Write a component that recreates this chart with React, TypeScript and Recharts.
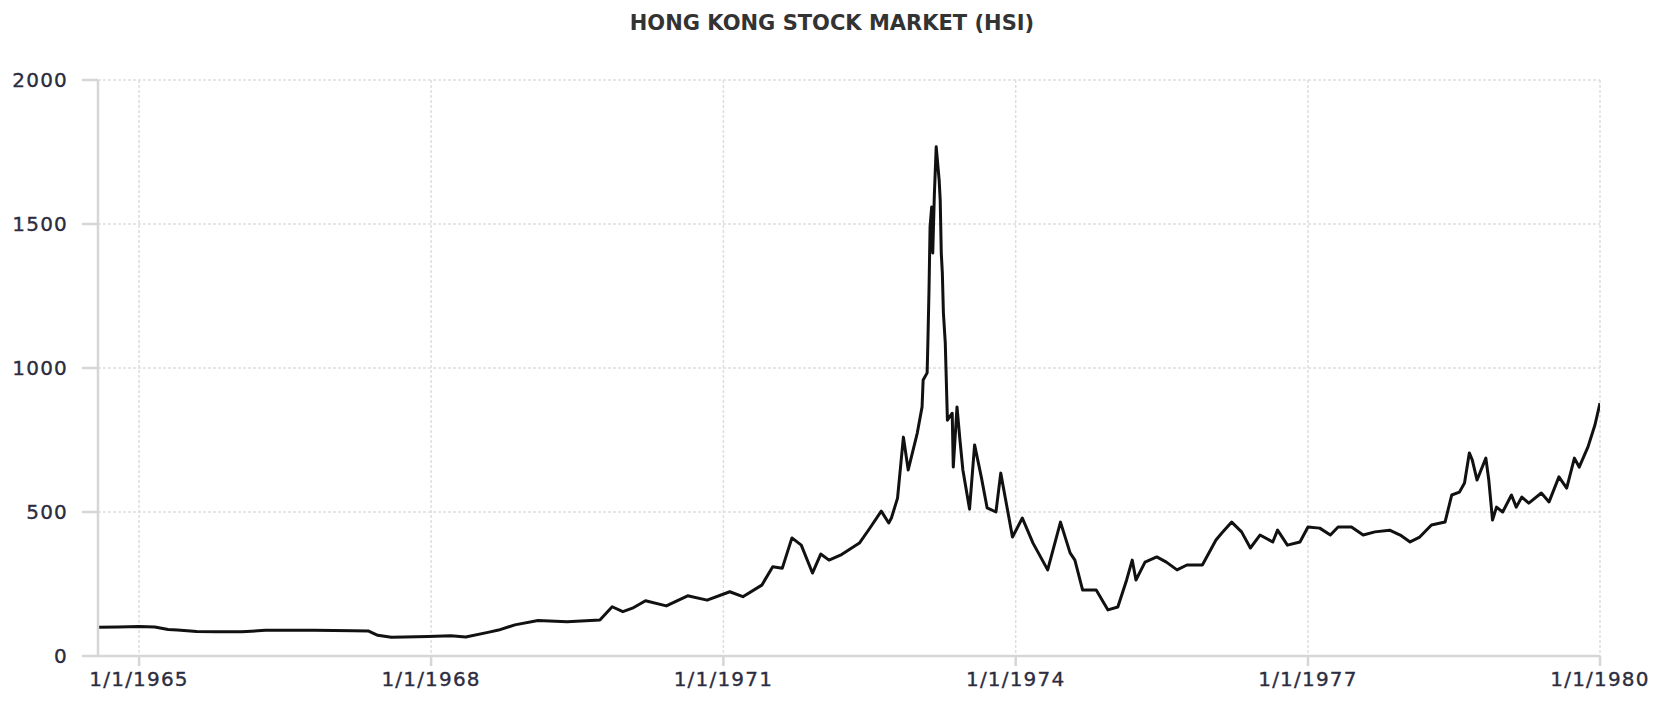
import { LineChart, Line, XAxis, YAxis, CartesianGrid } from 'recharts';

// HSI readings (approximate)
const dates = [
  '1964-07-31', '1964-10-15', '1965-01-01', '1965-03-01', '1965-04-20', '1965-05-25',
  '1965-08-05', '1965-10-20', '1966-01-20', '1966-04-20', '1966-10-20', '1967-03-15',
  '1967-05-10', '1967-06-15', '1967-08-05', '1967-09-25', '1967-12-20', '1968-03-15',
  '1968-05-10', '1968-08-01', '1968-09-10', '1968-11-10', '1969-02-05', '1969-05-25',
  '1969-09-25', '1969-11-10', '1969-12-20', '1970-01-25', '1970-03-15', '1970-06-01',
  '1970-08-20', '1970-11-01', '1971-01-25', '1971-03-15', '1971-05-25', '1971-07-05',
  '1971-08-10', '1971-09-15', '1971-10-20', '1971-12-01', '1972-01-01', '1972-02-01',
  '1972-03-15', '1972-05-25', '1972-07-01', '1972-08-15', '1972-09-12', '1972-09-22',
  '1972-10-15', '1972-11-06', '1972-11-24', '1972-12-28', '1973-01-15', '1973-01-19',
  '1973-02-03', '1973-02-06', '1973-02-10', '1973-02-14', '1973-02-20', '1973-02-24',
  '1973-03-02', '1973-03-09', '1973-03-20', '1973-03-24', '1973-03-28', '1973-04-01',
  '1973-04-05', '1973-04-12', '1973-04-20', '1973-05-08', '1973-05-12', '1973-05-26',
  '1973-06-06', '1973-06-17', '1973-07-12', '1973-07-31', '1973-08-25', '1973-09-16',
  '1973-10-19', '1973-11-06', '1973-12-20', '1974-01-26', '1974-03-07', '1974-05-01',
  '1974-06-18', '1974-07-24', '1974-08-11', '1974-09-09', '1974-10-30', '1974-12-13',
  '1975-01-19', '1975-02-21', '1975-03-14', '1975-03-28', '1975-05-01', '1975-06-14',
  '1975-07-20', '1975-08-29', '1975-10-05', '1975-12-02', '1976-01-22', '1976-02-13',
  '1976-03-21', '1976-04-27', '1976-05-30', '1976-07-05', '1976-08-22', '1976-09-09',
  '1976-10-16', '1976-12-02', '1977-01-01', '1977-02-14', '1977-03-26', '1977-04-24',
  '1977-06-13', '1977-07-27', '1977-09-09', '1977-11-03', '1977-12-13', '1978-01-19',
  '1978-02-24', '1978-04-09', '1978-05-30', '1978-06-24', '1978-07-23', '1978-08-11',
  '1978-08-29', '1978-09-09', '1978-09-27', '1978-10-12', '1978-10-30', '1978-11-10',
  '1978-11-24', '1978-12-09', '1979-01-01', '1979-02-03', '1979-02-21', '1979-03-14',
  '1979-04-09', '1979-05-26', '1979-06-24', '1979-07-31', '1979-08-29', '1979-09-27',
  '1979-10-15', '1979-11-17', '1979-12-13', '1980-01-01',
];

const hsi = [
  100, 101, 102, 101, 92, 90,
  85, 84, 84, 89, 89, 88,
  87, 72, 65, 66, 68, 70,
  66, 82, 90, 108, 123, 119,
  125, 171, 154, 166, 192, 174,
  209, 194, 223, 206, 246, 310,
  305, 410, 385, 288, 354, 333,
  350, 392, 441, 503, 462, 479,
  548, 760, 646, 774, 865, 958,
  983, 1097, 1271, 1490, 1559, 1399,
  1600, 1768, 1653, 1583, 1399, 1330,
  1191, 1087, 819, 843, 656, 865,
  750, 646, 510, 733, 622, 514,
  500, 635, 413, 479, 392, 299,
  465, 358, 333, 229, 229, 160,
  170, 264, 333, 264, 326, 344,
  326, 299, 316, 316, 403, 427,
  465, 431, 375, 420, 396, 437,
  385, 396, 448, 444, 420, 448,
  448, 420, 431, 437, 420, 396,
  413, 455, 465, 559, 569, 601,
  705, 681, 611, 646, 687, 611,
  472, 517, 500, 559, 517, 552,
  531, 566, 535, 622, 583, 687,
  656, 726, 802, 878,
];

const yearTicks = [1965, 1968, 1971, 1974, 1977, 1980];
const valueTicks = [0, 500, 1000, 1500, 2000];

const toTime = (s: string) => {
  const [y, m, d] = s.split('-').map(Number);
  return Date.UTC(y, m - 1, d);
};

const data = dates.map((d, i) => ({ t: toTime(d), v: hsi[i] }));

const tickStyle = {
  fontFamily: 'DejaVu Sans',
  fontSize: 20,
  fill: '#2c2c40',
  stroke: '#2c2c40',
  strokeWidth: 0.35,
  letterSpacing: 1.2,
};

export default function App() {
  return (
    <div style={{ position: 'absolute', left: 0, top: 0, width: 1675, height: 706, background: '#fff' }}>
      <div
        style={{
          position: 'absolute',
          left: 0,
          top: 11,
          width: 1664,
          textAlign: 'center',
          fontFamily: 'DejaVu Sans',
          fontWeight: 'bold',
          fontSize: 21,
          color: '#333',
          lineHeight: '24px',
        }}
      >
        HONG KONG STOCK MARKET (HSI)
      </div>
      <LineChart width={1675} height={706} data={data} margin={{ top: 80, right: 75, left: 0, bottom: 10 }}>
        <CartesianGrid stroke="#dedede" strokeWidth={1.5} strokeDasharray="3 2" />
        <XAxis
          dataKey="t"
          type="number"
          domain={[toTime('1964-07-31'), toTime('1980-01-01')]}
          ticks={yearTicks.map((y) => Date.UTC(y, 0, 1))}
          tickFormatter={(t: number) => `1/1/${new Date(t).getUTCFullYear()}`}
          interval={0}
          height={40}
          tickSize={10}
          tickMargin={6}
          stroke="#d6d6d6"
          strokeWidth={2.5}
          tick={tickStyle}
          allowDataOverflow
        />
        <YAxis
          domain={[0, 2000]}
          ticks={valueTicks}
          interval={0}
          width={98}
          tickSize={16}
          tickMargin={14}
          stroke="#d6d6d6"
          strokeWidth={2.5}
          tick={tickStyle}
        />
        <Line
          type="linear"
          dataKey="v"
          stroke="#111"
          strokeWidth={3}
          strokeLinejoin="round"
          dot={false}
          isAnimationActive={false}
        />
      </LineChart>
    </div>
  );
}
